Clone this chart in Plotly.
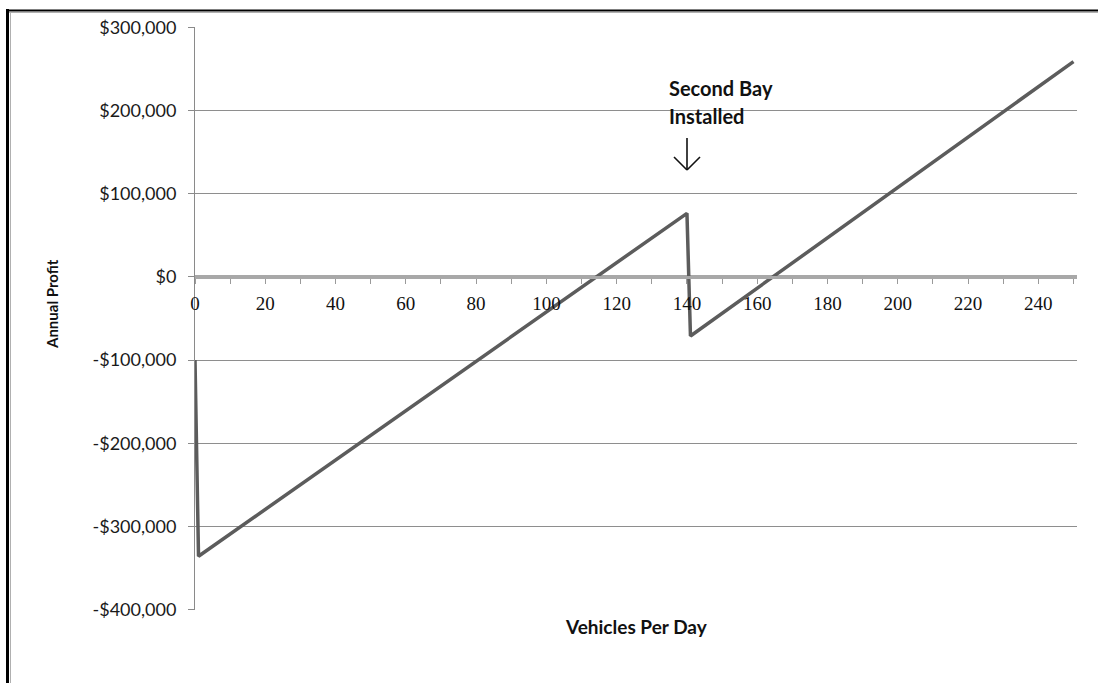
import plotly.graph_objects as go

# Data
vehicles = [0, 1, 140, 141, 250]
profit = [-100000, -336000, 76500, -71000, 259000]

y_tickvals = [300000, 200000, 100000, 0, -100000, -200000, -300000, -400000]
y_ticktext = ["$300,000", "$200,000", "$100,000", "$0", "-$100,000", "-$200,000", "-$300,000", "-$400,000"]
x_tickvals = [0, 20, 40, 60, 80, 100, 120, 140, 160, 180, 200, 220, 240]
x_ticktext = [str(v) for v in x_tickvals]

W, H = 1098, 683
L, R, T, B = 195, 1077, 27, 610


def px(x):
    return (x - L) / (R - L)


def py(y):
    return (B - y) / (B - T)


fig = go.Figure()
fig.add_trace(go.Scatter(
    x=vehicles, y=profit, mode="lines",
    line=dict(color="#5c5c5c", width=3.5),
    showlegend=False, hoverinfo="skip",
))

sans = "Lato"
serif = "Liberation Serif"

fig.update_layout(
    width=W, height=H,
    margin=dict(l=L, r=W - R, t=T, b=H - B, pad=0),
    paper_bgcolor="white", plot_bgcolor="white",
    xaxis=dict(
        range=[0, 251], anchor="free", position=(0 + 400000) / 700000,
        tickvals=x_tickvals, ticktext=x_ticktext,
        ticks="outside", ticklen=5, tickcolor="#9a9a9a", tickwidth=1,
        minor=dict(dtick=10, tick0=0, ticks="outside", ticklen=5, tickcolor="#9a9a9a", showgrid=False),
        showgrid=False, zeroline=False,
        showline=True, linecolor="#a8a8a8", linewidth=3,
        tickfont=dict(family=serif, size=19, color="#111111"),
        ticklabelstandoff=3,
    ),
    yaxis=dict(
        range=[-400600, 300600],
        tickvals=y_tickvals, ticktext=y_ticktext,
        ticks="outside", ticklen=6, tickcolor="#8a8a8a",
        showgrid=True, gridcolor="#8e8e8e", gridwidth=1,
        zeroline=True, zerolinecolor="#a8a8a8", zerolinewidth=3,
        showline=True, linecolor="#8a8a8a", linewidth=1,
        tickfont=dict(family=sans, size=18, color="#1a1a1a"),
        ticklabelstandoff=8,
    ),
    font=dict(family=sans),
)

annotations = [
    dict(text="<b>Vehicles Per Day</b>", x=px(636), y=py(626), xref="paper", yref="paper",
         xanchor="center", yanchor="middle", showarrow=False,
         font=dict(family=sans, size=19, color="#111111")),
    dict(text="<b>Annual Profit</b>", x=px(52), y=py(304), xref="paper", yref="paper",
         xanchor="center", yanchor="middle", showarrow=False, textangle=-90,
         font=dict(family=sans, size=15, color="#111111")),
    dict(text="<b>Second Bay</b>", x=px(667), y=py(88), xref="paper", yref="paper",
         xanchor="left", yanchor="middle", showarrow=False,
         font=dict(family=sans, size=20, color="#111111")),
    dict(text="<b>Installed</b>", x=px(667), y=py(116), xref="paper", yref="paper",
         xanchor="left", yanchor="middle", showarrow=False,
         font=dict(family=sans, size=20, color="#111111")),
]
fig.update_layout(annotations=annotations)

shapes = []
# arrow
ax, ay0, ay1, hw = 687, 138, 170, 13
for (x0, y0, x1, y1) in [(ax, ay0, ax, ay1), (ax - hw, ay1 - hw, ax, ay1), (ax + hw, ay1 - hw, ax, ay1)]:
    shapes.append(dict(type="line", xref="paper", yref="paper",
                       x0=px(x0), y0=py(y0), x1=px(x1), y1=py(y1),
                       line=dict(color="#111111", width=1.6)))
# outer frame (left and top)
shapes.append(dict(type="line", xref="paper", yref="paper", x0=px(7.5), y0=py(9), x1=px(7.5), y1=py(H + 5),
                   line=dict(color="#000000", width=3)))
shapes.append(dict(type="line", xref="paper", yref="paper", x0=px(10.5), y0=py(12), x1=px(10.5), y1=py(H + 5),
                   line=dict(color="#b0b0b0", width=1)))
shapes.append(dict(type="line", xref="paper", yref="paper", x0=px(6), y0=py(10.5), x1=px(W + 5), y1=py(10.5),
                   line=dict(color="#000000", width=2)))
shapes.append(dict(type="line", xref="paper", yref="paper", x0=px(9), y0=py(12.5), x1=px(W + 5), y1=py(12.5),
                   line=dict(color="#b0b0b0", width=1)))
fig.update_layout(shapes=shapes)

fig.write_html(
    "out.html",
    config={"displayModeBar": False},
    post_script="document.body.style.margin='0';document.body.style.overflow='hidden';",
)
